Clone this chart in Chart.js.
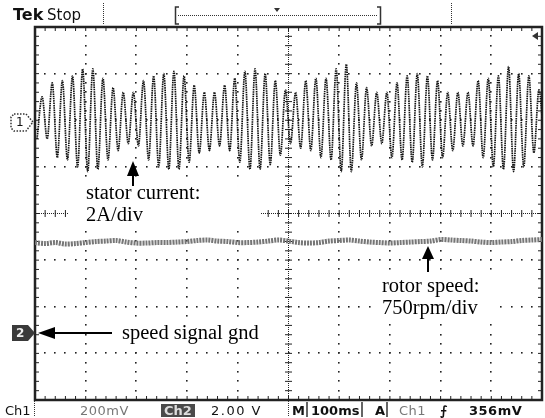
<!DOCTYPE html>
<html>
<head>
<meta charset="utf-8">
<script src="https://cdn.jsdelivr.net/npm/chart.js@4.4.1/dist/chart.umd.min.js"></script>
<style>
  body { margin: 0; background: #fff; }
  #wrap { position: relative; width: 545px; height: 418px; overflow: hidden; background: #fff; }
  #wrap canvas { position: absolute; left: 0; top: 0; }
  .t { position: absolute; white-space: nowrap; line-height: 1; }
  .note { font-family: "Liberation Serif", "DejaVu Serif", serif; font-size: 20.5px; color: #000; }
  .scope { font-family: "DejaVu Sans", sans-serif; font-size: 13px; color: #111; }
  .grey { color: #777; }
  .bold { font-weight: bold; }
</style>
</head>
<body>
<div id="wrap">
  <canvas id="scope" width="545" height="418"></canvas>

  <!-- header -->
  <div class="t scope bold" style="left:13px;top:7px;font-size:16px">Tek</div>
  <div class="t scope" style="left:47px;top:8px;font-size:15px">Stop</div>

  <!-- annotations -->
  <div class="t note" style="left:86px;top:182px">stator current:</div>
  <div class="t note" style="left:86px;top:204px">2A/div</div>
  <div class="t note" style="left:382px;top:275px">rotor speed:</div>
  <div class="t note" style="left:382px;top:297px">750rpm/div</div>
  <div class="t note" style="left:122px;top:322px">speed signal gnd</div>

  <!-- channel markers -->
  <div class="t scope" style="left:16px;top:116px;font-size:12px">1</div>
  <div class="t scope bold" style="left:16px;top:327px;font-size:12px;color:#eee">2</div>

  <!-- status line -->
  <div class="t scope" style="left:5px;top:404px">Ch1</div>
  <div class="t scope grey" style="left:80px;top:404px;letter-spacing:0.5px">200mV</div>
  <div class="t scope bold" style="left:161px;top:404px;background:#4a4a4a;color:#ddd;padding:0 3px">Ch2</div>
  <div class="t scope" style="left:211px;top:404px;letter-spacing:1.5px">2.00 V</div>
  <div class="t scope bold" style="left:292px;top:404px">M</div>
  <div class="t scope bold" style="left:311px;top:404px">100ms</div>
  <div class="t scope bold" style="left:375px;top:404px">A</div>
  <div class="t scope grey" style="left:399px;top:404px;letter-spacing:0.5px">Ch1</div>
  <div class="t scope bold" style="left:440px;top:404px">&#x2A0D;</div>
  <div class="t scope bold" style="left:469px;top:404px;letter-spacing:0.5px">356mV</div>
</div>

<script>
// time base 100 ms/div, 10 divisions
const timeMin = 0;
const timeMax = 1000;

// stator current (A): successive peaks / troughs, one every half cycle (50 Hz)
const currentStartMs = 4;
const currentStepMs = 10;
const statorCurrent = [
  -0.8, 1.0, -0.8, 1.6, -1.6, 1.7, -1.7, 1.9, -2.0, 2.2,
  -2.2, 2.2, -2.1, 1.8, -1.7, 1.4, -1.3, 1.2, -1.0, 1.2,
  -1.1, 1.7, -1.7, 1.9, -2.0, 2.0, -2.1, 2.1, -2.1, 1.9,
  -1.8, 1.5, -1.4, 1.2, -1.3, 1.2, -1.1, 1.5, -1.3, 1.8,
  -1.8, 2.1, -2.1, 2.2, -2.1, 2.0, -1.9, 1.7, -1.5, 1.3,
  -1.0, 1.2, -1.2, 1.7, -1.3, 1.8, -1.6, 1.8, -1.7, 2.2,
  -2.2, 2.4, -2.2, 1.6, -1.7, 1.4, -1.1, 1.2, -1.0, 1.2,
  -1.6, 1.6, -1.7, 1.9, -1.8, 2.0, -2.0, 1.9, -1.7, 1.7,
  -1.6, 1.2, -1.3, 1.2, -1.1, 1.2, -1.1, 1.7, -1.6, 1.8,
  -2.0, 1.9, -2.1, 2.3, -2.2, 2.0, -2.0, 1.9, -1.4, 1.3,
  -1.0
];

// rotor speed (rpm), read every 20 ms
const speedStepMs = 20;
const rotorSpeed = [
  1445, 1429, 1445, 1421, 1429, 1445, 1461, 1469, 1478, 1453,
  1437, 1437, 1445, 1445, 1453, 1461, 1478, 1486, 1469, 1461,
  1445, 1445, 1453, 1469, 1486, 1469, 1445, 1437, 1445, 1469,
  1478, 1486, 1469, 1453, 1445, 1437, 1445, 1453, 1461, 1469,
  1494, 1486, 1478, 1469, 1453, 1445, 1453, 1461, 1478, 1486,
  1494
];

// channel settings (screen divisions)
const ch1Offset = 2.0;     // ground of ch1, div above centre
const ch1AmpsPerDiv = 2;
const ch2Offset = -2.55;   // speed signal gnd
const ch2RpmPerDiv = 750;

const currentPoints = statorCurrent.map((v, i) => ({
  x: currentStartMs + i * currentStepMs,
  y: ch1Offset + v / ch1AmpsPerDiv
}));
const speedPoints = rotorSpeed.map((v, i) => ({
  x: i * speedStepMs,
  y: ch2Offset + v / ch2RpmPerDiv
}));

const graticule = {
  id: 'graticule',
  beforeDatasetsDraw(chart) {
    const { ctx, chartArea: a, scales: { x, y } } = chart;
    ctx.save();
    ctx.fillStyle = '#222';
    // dotted division lines
    for (let d = 1; d < 10; d++) {
      if (d === 5) continue;
      const px = Math.round(x.getPixelForValue(d * 100));
      for (let m = 1; m < 40; m++) {
        const py = Math.round(y.getPixelForValue(-4 + m * 0.2));
        ctx.fillRect(px - 1, py - 1, 1.6, 1.6);
      }
    }
    for (let d = -3; d <= 3; d++) {
      if (d === 0) continue;
      const py = Math.round(y.getPixelForValue(d));
      for (let m = 1; m < 50; m++) {
        const px = Math.round(x.getPixelForValue(m * 20));
        ctx.fillRect(px - 1, py - 1, 1.6, 1.6);
      }
    }
    // centre cross
    const cx = x.getPixelForValue(500), cy = y.getPixelForValue(0);
    ctx.strokeStyle = '#222';
    ctx.lineWidth = 1;
    ctx.setLineDash([1, 1]);
    ctx.beginPath();
    ctx.moveTo(a.left, cy); ctx.lineTo(a.right, cy);
    ctx.moveTo(cx, a.top); ctx.lineTo(cx, a.bottom);
    ctx.stroke();
    ctx.setLineDash([]);
    ctx.beginPath();
    for (let m = 1; m < 50; m++) {
      const px = x.getPixelForValue(m * 20);
      ctx.moveTo(px, cy - 3.5); ctx.lineTo(px, cy + 3.5);
      ctx.moveTo(px, a.top); ctx.lineTo(px, a.top + 4);
      ctx.moveTo(px, a.bottom); ctx.lineTo(px, a.bottom - 4);
    }
    for (let m = 1; m < 40; m++) {
      const py = y.getPixelForValue(-4 + m * 0.2);
      ctx.moveTo(cx - 3.5, py); ctx.lineTo(cx + 3.5, py);
      ctx.moveTo(a.left, py); ctx.lineTo(a.left + 4, py);
      ctx.moveTo(a.right, py); ctx.lineTo(a.right - 4, py);
    }
    ctx.stroke();
    // frame
    ctx.lineWidth = 2.5;
    ctx.strokeRect(a.left, a.top, a.right - a.left, a.bottom - a.top);

    // white label boxes
    ctx.fillStyle = '#fff';
    ctx.fillRect(68, 179, 192, 50);
    ctx.fillRect(372, 270, 128, 50);
    ctx.fillRect(116, 320, 150, 26);
    ctx.restore();
  },
  afterDatasetsDraw(chart) {
    const { ctx } = chart;
    ctx.save();
    ctx.fillStyle = '#000';
    ctx.strokeStyle = '#000';
    // upward arrows
    const up = (tx, ty, base, end) => {
      ctx.beginPath();
      ctx.moveTo(tx, ty); ctx.lineTo(tx - 6, base); ctx.lineTo(tx + 6, base);
      ctx.closePath(); ctx.fill();
      ctx.lineWidth = 2;
      ctx.beginPath(); ctx.moveTo(tx, base); ctx.lineTo(tx, end); ctx.stroke();
    };
    up(133, 161, 176, 186);
    up(428, 246, 259, 272);
    // left arrow to gnd
    ctx.beginPath();
    ctx.moveTo(38, 333); ctx.lineTo(55, 327); ctx.lineTo(55, 339);
    ctx.closePath(); ctx.fill();
    ctx.lineWidth = 2;
    ctx.beginPath(); ctx.moveTo(55, 333); ctx.lineTo(112, 333); ctx.stroke();
    ctx.restore();
  },
  afterDraw(chart) {
    const { ctx } = chart;
    ctx.save();
    ctx.strokeStyle = '#333';
    ctx.fillStyle = '#333';
    ctx.lineWidth = 1;
    // header separators and trigger bracket
    ctx.setLineDash([1, 1]);
    ctx.beginPath();
    ctx.moveTo(103.5, 3); ctx.lineTo(103.5, 24);
    ctx.moveTo(451.5, 3); ctx.lineTo(451.5, 24);
    ctx.moveTo(178, 15.5); ctx.lineTo(378, 15.5);
    ctx.moveTo(34.5, 401); ctx.lineTo(34.5, 417);
    ctx.moveTo(288.5, 401); ctx.lineTo(288.5, 417);
    ctx.stroke();
    ctx.setLineDash([]);
    ctx.lineWidth = 1.5;
    ctx.beginPath();
    ctx.moveTo(179, 7); ctx.lineTo(175.5, 7); ctx.lineTo(175.5, 24); ctx.lineTo(179, 24);
    ctx.moveTo(377, 7); ctx.lineTo(380.5, 7); ctx.lineTo(380.5, 24); ctx.lineTo(377, 24);
    ctx.moveTo(307, 402); ctx.lineTo(307, 417);
    ctx.moveTo(362, 402); ctx.lineTo(362, 417);
    ctx.moveTo(387, 402); ctx.lineTo(387, 417);
    ctx.stroke();
    // trigger position marker
    ctx.beginPath();
    ctx.moveTo(274, 8); ctx.lineTo(280, 8); ctx.lineTo(277, 12);
    ctx.closePath(); ctx.fill();
    // trigger level marker
    ctx.beginPath();
    ctx.moveTo(532, 36); ctx.lineTo(538, 32); ctx.lineTo(538, 40);
    ctx.closePath(); ctx.fill();
    // ch1 marker (dotted box)
    ctx.setLineDash([1.5, 1.5]);
    ctx.beginPath();
    ctx.moveTo(14, 114); ctx.lineTo(26, 114); ctx.lineTo(33, 122);
    ctx.lineTo(26, 131); ctx.lineTo(14, 131); ctx.lineTo(11, 128);
    ctx.lineTo(11, 117); ctx.closePath(); ctx.stroke();
    ctx.setLineDash([]);
    // ch2 marker (filled)
    ctx.fillStyle = '#3a3a3a';
    ctx.beginPath();
    ctx.moveTo(12, 325); ctx.lineTo(28, 325); ctx.lineTo(35, 333);
    ctx.lineTo(28, 341); ctx.lineTo(12, 341); ctx.closePath(); ctx.fill();
    ctx.restore();
  }
};

new Chart(document.getElementById('scope'), {
  type: 'line',
  data: {
    datasets: [
      {
        label: 'stator current',
        data: currentPoints,
        borderColor: '#111',
        borderWidth: 1.7,
        borderDash: [1.5, 0.8],
        cubicInterpolationMode: 'monotone',
        pointRadius: 0
      },
      {
        label: 'rotor speed',
        data: speedPoints,
        borderColor: '#767676',
        borderWidth: 5,
        borderDash: [2, 1],
        tension: 0.3,
        pointRadius: 0
      }
    ]
  },
  options: {
    responsive: false,
    animation: false,
    events: [],
    layout: { padding: { left: 35, top: 27, right: 3, bottom: 18 } },
    scales: {
      x: { type: 'linear', min: timeMin, max: timeMax, display: false },
      y: { min: -4, max: 4, display: false }
    },
    plugins: { legend: { display: false }, tooltip: { enabled: false } }
  },
  plugins: [graticule]
});
</script>
</body>
</html>
